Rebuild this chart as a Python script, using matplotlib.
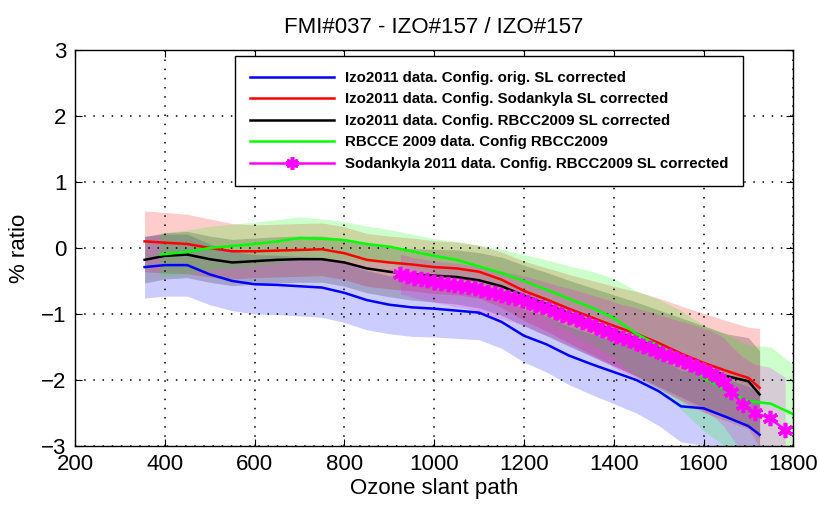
import numpy as np
import matplotlib
matplotlib.use('Agg')
import matplotlib.pyplot as plt

plt.rcParams['font.family'] = ['Liberation Sans', 'DejaVu Sans']

# Izo2011 series share the same x grid
x_izo = [355, 400, 450, 500, 550, 600, 650, 700, 750, 800, 850, 900, 950, 1000,
         1050, 1100, 1150, 1200, 1250, 1300, 1350, 1400, 1450, 1500, 1550, 1600,
         1650, 1700, 1725]
blue = [-0.29, -0.26, -0.26, -0.40, -0.50, -0.55, -0.56, -0.58, -0.60, -0.68,
        -0.79, -0.86, -0.90, -0.92, -0.95, -0.98, -1.12, -1.33, -1.46, -1.63,
        -1.76, -1.88, -2.00, -2.17, -2.40, -2.43, -2.56, -2.70, -2.83]
blue_hw = [0.47, 0.47, 0.47, 0.46, 0.45, 0.45, 0.45, 0.45, 0.45, 0.45, 0.45,
           0.44, 0.44, 0.43, 0.42, 0.41, 0.40, 0.40, 0.42, 0.44, 0.46, 0.48,
           0.50, 0.52, 0.54, 0.56, 0.58, 0.60, 0.60]
red = [0.10, 0.08, 0.06, 0.00, -0.05, -0.05, -0.04, -0.03, -0.02, -0.08, -0.18,
       -0.22, -0.25, -0.29, -0.31, -0.36, -0.48, -0.65, -0.78, -0.92, -1.05,
       -1.18, -1.30, -1.44, -1.60, -1.74, -1.86, -1.97, -2.12]
red_hw = [0.46, 0.46, 0.45, 0.44, 0.42, 0.40, 0.40, 0.40, 0.40, 0.40, 0.40,
          0.40, 0.40, 0.40, 0.40, 0.40, 0.42, 0.45, 0.48, 0.52, 0.56, 0.60,
          0.64, 0.68, 0.72, 0.75, 0.76, 0.77, 0.90]
black = [-0.18, -0.12, -0.10, -0.17, -0.22, -0.20, -0.18, -0.17, -0.17, -0.22,
         -0.31, -0.36, -0.40, -0.42, -0.44, -0.49, -0.58, -0.72, -0.85, -0.99,
         -1.12, -1.25, -1.38, -1.52, -1.66, -1.80, -1.94, -2.02, -2.22]
black_hw = [0.35, 0.35, 0.35, 0.35, 0.35, 0.35, 0.35, 0.35, 0.35, 0.36, 0.37,
            0.38, 0.39, 0.40, 0.41, 0.42, 0.44, 0.46, 0.48, 0.50, 0.52, 0.54,
            0.56, 0.58, 0.60, 0.62, 0.64, 0.66, 0.66]

# RBCCE 2009
x_green = [390, 450, 500, 550, 600, 650, 700, 750, 800, 850, 900, 950, 1000,
           1050, 1100, 1150, 1200, 1250, 1300, 1350, 1400, 1450, 1500, 1550,
           1600, 1650, 1700, 1750, 1800]
green = [-0.10, -0.06, 0.00, 0.03, 0.06, 0.10, 0.15, 0.14, 0.12, 0.06, 0.02,
         -0.05, -0.12, -0.18, -0.28, -0.38, -0.50, -0.63, -0.77, -0.90, -1.06,
         -1.30, -1.48, -1.70, -1.97, -2.16, -2.32, -2.36, -2.52]
green_hw = [0.33, 0.33, 0.33, 0.33, 0.33, 0.33, 0.32, 0.30, 0.28, 0.27, 0.26,
            0.26, 0.26, 0.28, 0.32, 0.36, 0.40, 0.45, 0.50, 0.55, 0.60, 0.65,
            0.70, 0.75, 0.80, 0.85, 0.85, 0.86, 0.75]

# Sodankyla 2011
x_mag = [925, 940, 955, 970, 985, 1000, 1015, 1030, 1045, 1060, 1075, 1090,
         1105, 1120, 1135, 1150, 1165, 1180, 1195, 1210, 1225, 1240, 1255, 1270,
         1285, 1300, 1315, 1330, 1345, 1360, 1375, 1390, 1405, 1420, 1435, 1450,
         1465, 1480, 1495, 1510, 1525, 1540, 1555, 1570, 1585, 1600, 1615, 1630,
         1645, 1662, 1688, 1714, 1748, 1782]
mag = [-0.40, -0.42, -0.45, -0.47, -0.49, -0.51, -0.53, -0.54, -0.56, -0.57,
       -0.59, -0.61, -0.64, -0.66, -0.69, -0.71, -0.74, -0.76, -0.79, -0.82,
       -0.86, -0.90, -0.93, -0.97, -1.01, -1.04, -1.08, -1.12, -1.16, -1.20,
       -1.24, -1.28, -1.33, -1.37, -1.40, -1.44, -1.48, -1.52, -1.56, -1.60,
       -1.64, -1.68, -1.72, -1.76, -1.80, -1.85, -1.89, -1.95, -2.03, -2.18,
       -2.38, -2.50, -2.58, -2.76]
mag_hw = [0.30, 0.30, 0.30, 0.31, 0.31, 0.31, 0.32, 0.32, 0.33, 0.33, 0.33,
          0.34, 0.34, 0.35, 0.35, 0.36, 0.36, 0.37, 0.37, 0.38, 0.39, 0.40,
          0.40, 0.41, 0.42, 0.43, 0.44, 0.45, 0.46, 0.47, 0.48, 0.49, 0.50,
          0.51, 0.52, 0.53, 0.54, 0.55, 0.56, 0.57, 0.58, 0.59, 0.60, 0.61,
          0.62, 0.63, 0.64, 0.65, 0.67, 0.69, 0.72, 0.74, 0.77, 0.80]

labels = ['Izo2011 data. Config. orig. SL corrected',
          'Izo2011 data. Config. Sodankyla SL corrected',
          'Izo2011 data. Config. RBCC2009 SL corrected',
          'RBCCE 2009 data. Config RBCC2009',
          'Sodankyla 2011 data. Config. RBCC2009 SL corrected']

series = [(x_izo, blue, blue_hw, (0, 0, 1)),
          (x_izo, red, red_hw, (1, 0, 0)),
          (x_izo, black, black_hw, (0, 0, 0)),
          (x_green, green, green_hw, (0, 1, 0)),
          (x_mag, mag, mag_hw, (1, 0, 1))]

fig = plt.figure(figsize=(8.19, 5.05), dpi=100)
ax = fig.add_axes([0.0916, 0.117, 0.877, 0.784])

# shaded bands
for xs, ys, hw, col in series:
    xs = np.array(xs); ys = np.array(ys); hw = np.array(hw)
    ax.fill_between(xs, ys - hw, ys + hw, color=col, alpha=0.2, lw=0)

# lines
for (xs, ys, hw, col), lab in zip(series[:4], labels[:4]):
    ax.plot(xs, ys, color=col, lw=1.8, label=lab)
ax.plot(x_mag, mag, color=(1, 0, 1), lw=1.8, marker=(6, 2, 0), ms=11,
        mew=2.6, label=labels[4])

ax.set_xlim(200, 1800)
ax.set_ylim(-3, 3)
ax.set_xticks(range(200, 1801, 200))
ax.set_yticks(range(-3, 4))
ax.grid(True, color='black', linestyle=(0, (1, 5)), lw=1.1)
ax.tick_params(direction='in', top=True, right=True, length=5,
               labelsize=16, pad=6)
for s in ax.spines.values():
    s.set_linewidth(1.0)

ax.set_title('FMI#037 - IZO#157 / IZO#157', fontsize=16, pad=12)
ax.set_xlabel('Ozone slant path', fontsize=16, labelpad=2)
ax.set_ylabel('% ratio', fontsize=16, labelpad=8)

leg = ax.legend(loc='upper left', bbox_to_anchor=(0.223, 0.985),
                borderaxespad=0, handlelength=5.6, handletextpad=0.7,
                labelspacing=0.5, borderpad=1.0, fancybox=False,
                framealpha=1, edgecolor='black',
                prop={'weight': 'bold', 'size': 10.8})
leg.get_frame().set_linewidth(1.0)
for h in leg.legend_handles:
    h.set_markersize(9)

fig.savefig('out.png', dpi=100)
